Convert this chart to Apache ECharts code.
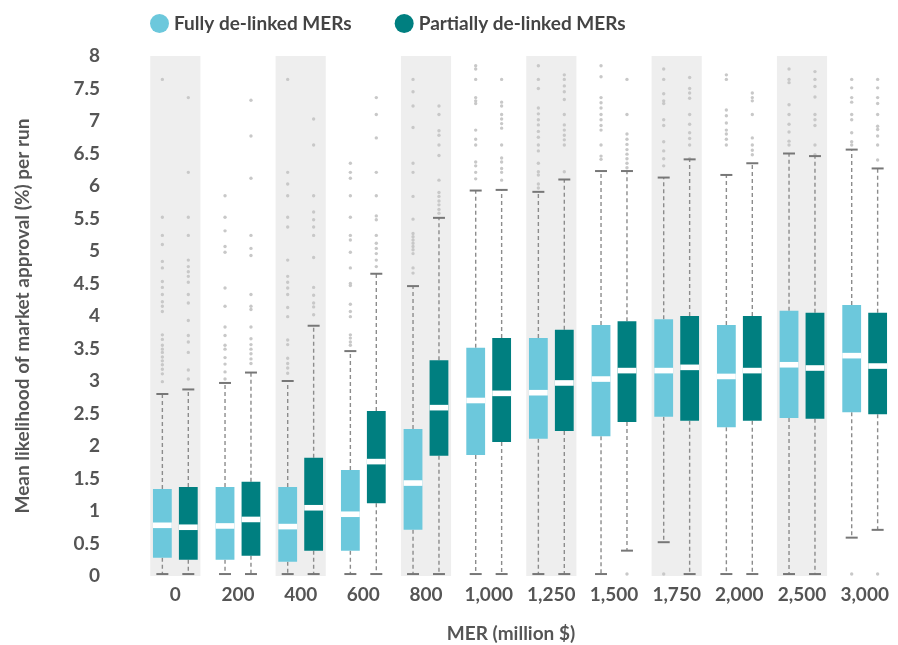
<!DOCTYPE html>
<html>
<head>
<meta charset="utf-8">
<script src="https://cdn.jsdelivr.net/npm/echarts@6/dist/echarts.min.js"></script>
<style>
  html, body { margin: 0; padding: 0; background: #ffffff; }
  #chart { width: 898px; height: 645px; }
</style>
</head>
<body>
<div id="chart"></div>
<script>
// ---------------- DATA ----------------
const categories = ['0', '200', '400', '600', '800', '1,000', '1,250', '1,500', '1,750', '2,000', '2,500', '3,000'];
const seriesNames = ['Fully de-linked MERs', 'Partially de-linked MERs'];

// [min, Q1, median, Q3, max] per category
const fullyStats = [
  [0.03, 0.28, 0.78, 1.34, 2.80],
  [0.03, 0.25, 0.77, 1.37, 2.97],
  [0.03, 0.22, 0.76, 1.37, 3.00],
  [0.03, 0.39, 0.95, 1.63, 3.46],
  [0.03, 0.71, 1.43, 2.26, 4.46],
  [0.03, 1.86, 2.70, 3.51, 5.93],
  [0.03, 2.11, 2.82, 3.66, 5.91],
  [0.03, 2.15, 3.03, 3.86, 6.23],
  [0.52, 2.45, 3.16, 3.95, 6.13],
  [0.03, 2.29, 3.07, 3.86, 6.17],
  [0.03, 2.43, 3.25, 4.08, 6.50],
  [0.59, 2.52, 3.39, 4.17, 6.56]
];
const partiallyStats = [
  [0.03, 0.25, 0.75, 1.37, 2.87],
  [0.03, 0.31, 0.87, 1.45, 3.13],
  [0.03, 0.39, 1.05, 1.82, 3.85],
  [0.03, 1.12, 1.76, 2.54, 4.65],
  [0.03, 1.85, 2.59, 3.32, 5.51],
  [0.03, 2.06, 2.81, 3.66, 5.94],
  [0.03, 2.23, 2.97, 3.79, 6.10],
  [0.39, 2.37, 3.16, 3.92, 6.23],
  [0.03, 2.39, 3.21, 4.00, 6.41],
  [0.03, 2.39, 3.16, 4.00, 6.35],
  [0.03, 2.42, 3.20, 4.05, 6.46],
  [0.71, 2.49, 3.23, 4.05, 6.27]
];

// outlier values per category
const fullyOutliers = [
  [7.64, 5.52, 5.24, 5.10, 4.84, 4.74, 4.53, 4.44, 4.33, 4.22, 4.15, 4.07, 3.71, 3.64, 3.55, 3.49, 3.44, 3.37, 3.31, 3.25, 3.18, 3.11, 2.99],
  [5.85, 5.52, 5.31, 5.07, 4.98, 4.43, 4.15, 3.83, 3.70, 3.55, 3.49, 3.36, 3.26, 3.14, 3.03],
  [7.64, 6.21, 6.03, 5.85, 5.52, 5.37, 4.86, 4.61, 4.52, 4.43, 4.33, 4.13, 3.99, 3.63, 3.56, 3.35, 3.27, 3.20, 3.12],
  [6.35, 6.21, 6.12, 5.85, 5.52, 5.24, 5.17, 4.98, 4.74, 4.50, 4.47, 4.18, 4.07, 3.99, 3.71, 3.66, 3.60, 3.55],
  [7.64, 7.45, 7.23, 6.90, 6.35, 6.21, 5.84, 5.49, 5.27, 5.22, 5.17, 5.12, 5.07, 5.02, 4.96, 4.74, 4.66],
  [7.85, 7.80, 7.64, 7.36, 7.31, 7.27, 6.86, 6.72, 6.63, 6.37, 6.31, 6.21, 6.11],
  [7.85, 7.64, 7.50, 7.20, 7.11, 7.02, 6.94, 6.84, 6.75, 6.63, 6.54, 6.35, 6.22, 6.17, 6.03, 5.97],
  [7.85, 7.68, 7.36, 7.28, 7.20, 7.10, 7.02, 6.93, 6.86, 6.63, 6.46, 6.41],
  [7.80, 7.64, 7.42, 7.31, 7.27, 7.02, 6.93, 6.68, 6.54, 6.42, 6.31, 0.03],
  [7.71, 7.64, 7.17, 7.08, 6.97, 6.86, 6.80, 6.72, 6.63],
  [7.80, 7.64, 7.59, 7.25, 7.10, 6.95, 6.83, 6.69, 6.63],
  [7.64, 7.51, 7.36, 7.29, 7.10, 7.02, 6.82, 6.68, 6.63, 0.03]
];
const partiallyOutliers = [
  [7.36, 6.21, 5.52, 5.24, 4.86, 4.76, 4.68, 4.61, 4.52, 4.33, 4.20, 3.93, 3.70, 3.60, 3.44, 3.17, 3.03],
  [7.32, 6.77, 6.12, 5.24, 5.04, 4.93, 4.33, 4.15, 4.10, 3.83, 3.65, 3.56, 3.49, 3.42, 3.34, 3.27],
  [7.03, 6.63, 5.85, 5.60, 5.48, 5.37, 5.24, 4.90, 4.44, 4.32, 4.20, 4.14, 4.02],
  [7.36, 7.10, 6.74, 6.21, 5.85, 5.54, 5.48, 5.24, 5.12, 5.04, 4.96, 4.86, 4.76],
  [7.23, 7.10, 6.85, 6.78, 6.63, 6.47, 6.09, 5.90, 5.84, 5.77, 5.71, 5.64, 5.58],
  [7.64, 7.29, 7.23, 7.10, 7.03, 6.96, 6.89, 6.63, 6.43, 6.37, 6.27, 6.21, 6.09],
  [7.71, 7.64, 7.54, 7.45, 7.33, 7.10, 6.94, 6.86, 6.78, 6.71, 6.63, 6.22],
  [7.64, 7.10, 6.80, 6.72, 6.64, 6.56, 6.49, 6.42, 6.35, 6.28, 0.03],
  [7.67, 7.50, 7.43, 7.35, 7.10, 6.95, 6.82, 6.73, 6.63, 6.42],
  [7.43, 7.36, 7.31, 7.10, 6.74, 6.63, 6.55, 6.48],
  [7.76, 7.64, 7.53, 7.37, 7.10, 7.02, 6.93, 6.63, 6.48],
  [7.64, 7.51, 7.36, 7.27, 7.10, 6.92, 6.87, 6.77, 6.63, 6.40, 0.03]
];

const yMin = 0, yMax = 8, yInterval = 0.5;

// ---------------- STYLE ----------------
const FONT = 'Lato, "Open Sans", sans-serif';
const TEXT_COLOR = '#555555';
const LIGHT = '#6cc8dc';
const DARK = '#007f80';
const BAND = '#eeeeee';

// ---------------- BUILD ----------------
const boxData = stats => stats.map((s, i) => [i].concat(s));
const outlierData = outs => {
  const arr = [];
  outs.forEach((list, i) => list.forEach(v => arr.push([i, v])));
  return arr;
};
const bandData = categories.map((c, i) => (i % 2 === 0 ? yMax : '-'));

function boxRenderer(side, color) {
  return function (params, api) {
    const idx = api.value(0);
    const bw = api.size([1, 0])[0];
    const cx = api.coord([idx, 0])[0] + side * bw * 0.207;
    const w = bw * 0.30;
    const yMinP = api.coord([idx, api.value(1)])[1];
    const yQ1 = api.coord([idx, api.value(2)])[1];
    const yMed = api.coord([idx, api.value(3)])[1];
    const yQ3 = api.coord([idx, api.value(4)])[1];
    const yMaxP = api.coord([idx, api.value(5)])[1];
    const capHalf = 6;
    const whiskerStyle = { stroke: '#8c8c8c', lineWidth: 1.4, lineDash: [4, 3] };
    const capStyle = { stroke: '#777777', lineWidth: 2 };
    return {
      type: 'group',
      children: [
        { type: 'line', shape: { x1: cx, y1: yQ1, x2: cx, y2: yMinP }, style: whiskerStyle },
        { type: 'line', shape: { x1: cx, y1: yQ3, x2: cx, y2: yMaxP }, style: whiskerStyle },
        { type: 'line', shape: { x1: cx - capHalf, y1: yMinP, x2: cx + capHalf, y2: yMinP }, style: capStyle },
        { type: 'line', shape: { x1: cx - capHalf, y1: yMaxP, x2: cx + capHalf, y2: yMaxP }, style: capStyle },
        { type: 'rect', shape: { x: cx - w / 2, y: yQ3, width: w, height: yQ1 - yQ3 }, style: { fill: color } },
        { type: 'rect', shape: { x: cx - w / 2, y: yMed - 2.8, width: w, height: 5.6 }, style: { fill: '#ffffff' } }
      ]
    };
  };
}

function outlierRenderer(side) {
  return function (params, api) {
    const idx = api.value(0);
    const bw = api.size([1, 0])[0];
    const pt = api.coord([idx, api.value(1)]);
    return {
      type: 'circle',
      shape: { cx: pt[0] + side * bw * 0.207, cy: pt[1], r: 1.7 },
      style: { fill: '#c8c8c8' }
    };
  };
}

const chart = echarts.init(document.getElementById('chart'), null, { renderer: 'canvas' });

chart.setOption({
  animation: false,
  backgroundColor: '#ffffff',
  textStyle: { fontFamily: FONT },
  legend: {
    data: [
      { name: seriesNames[0], itemStyle: { color: LIGHT } },
      { name: seriesNames[1], itemStyle: { color: DARK } }
    ],
    icon: 'circle',
    itemWidth: 19,
    itemHeight: 19,
    itemGap: 43,
    left: 145,
    top: 9,
    textStyle: { fontFamily: FONT, fontWeight: 'bold', fontSize: 19, color: '#444444' }
  },
  grid: { left: 144, right: 2, top: 56, bottom: 69, containLabel: false, outerBoundsMode: 'none' },
  xAxis: {
    type: 'category',
    data: categories,
    name: 'MER (million $)',
    nameLocation: 'middle',
    nameGap: 48,
    nameTextStyle: { fontFamily: FONT, fontWeight: 'bold', fontSize: 19, color: TEXT_COLOR, padding: [0, 18, 0, 0] },
    axisLine: { show: false },
    axisTick: { show: false },
    splitLine: { show: false },
    axisLabel: { fontFamily: FONT, fontWeight: 'bold', fontSize: 19, color: TEXT_COLOR, margin: 9, interval: 0 }
  },
  yAxis: {
    type: 'value',
    min: yMin,
    max: yMax,
    interval: yInterval,
    name: 'Mean likelihood of market approval (%) per run',
    nameLocation: 'middle',
    nameGap: 112,
    nameTextStyle: { fontFamily: FONT, fontWeight: 'bold', fontSize: 19, color: TEXT_COLOR },
    axisLine: { show: false },
    axisTick: { show: false },
    splitLine: { show: false },
    axisLabel: { fontFamily: FONT, fontWeight: 'bold', fontSize: 19, color: TEXT_COLOR, margin: 44 }
  },
  series: [
    {
      name: 'bands',
      type: 'bar',
      data: bandData,
      barWidth: '80%',
      itemStyle: { color: BAND },
      silent: true,
      z: 0
    },
    {
      name: seriesNames[0] + ' outliers',
      type: 'custom',
      renderItem: outlierRenderer(-1),
      data: outlierData(fullyOutliers),
      encode: { x: 0, y: 1 },
      silent: true,
      z: 1
    },
    {
      name: seriesNames[1] + ' outliers',
      type: 'custom',
      renderItem: outlierRenderer(1),
      data: outlierData(partiallyOutliers),
      encode: { x: 0, y: 1 },
      silent: true,
      z: 1
    },
    {
      name: seriesNames[0],
      type: 'custom',
      renderItem: boxRenderer(-1, LIGHT),
      data: boxData(fullyStats),
      encode: { x: 0, y: [1, 2, 3, 4, 5] },
      itemStyle: { color: LIGHT },
      z: 2
    },
    {
      name: seriesNames[1],
      type: 'custom',
      renderItem: boxRenderer(1, DARK),
      data: boxData(partiallyStats),
      encode: { x: 0, y: [1, 2, 3, 4, 5] },
      itemStyle: { color: DARK },
      z: 2
    }
  ]
});
</script>
</body>
</html>
